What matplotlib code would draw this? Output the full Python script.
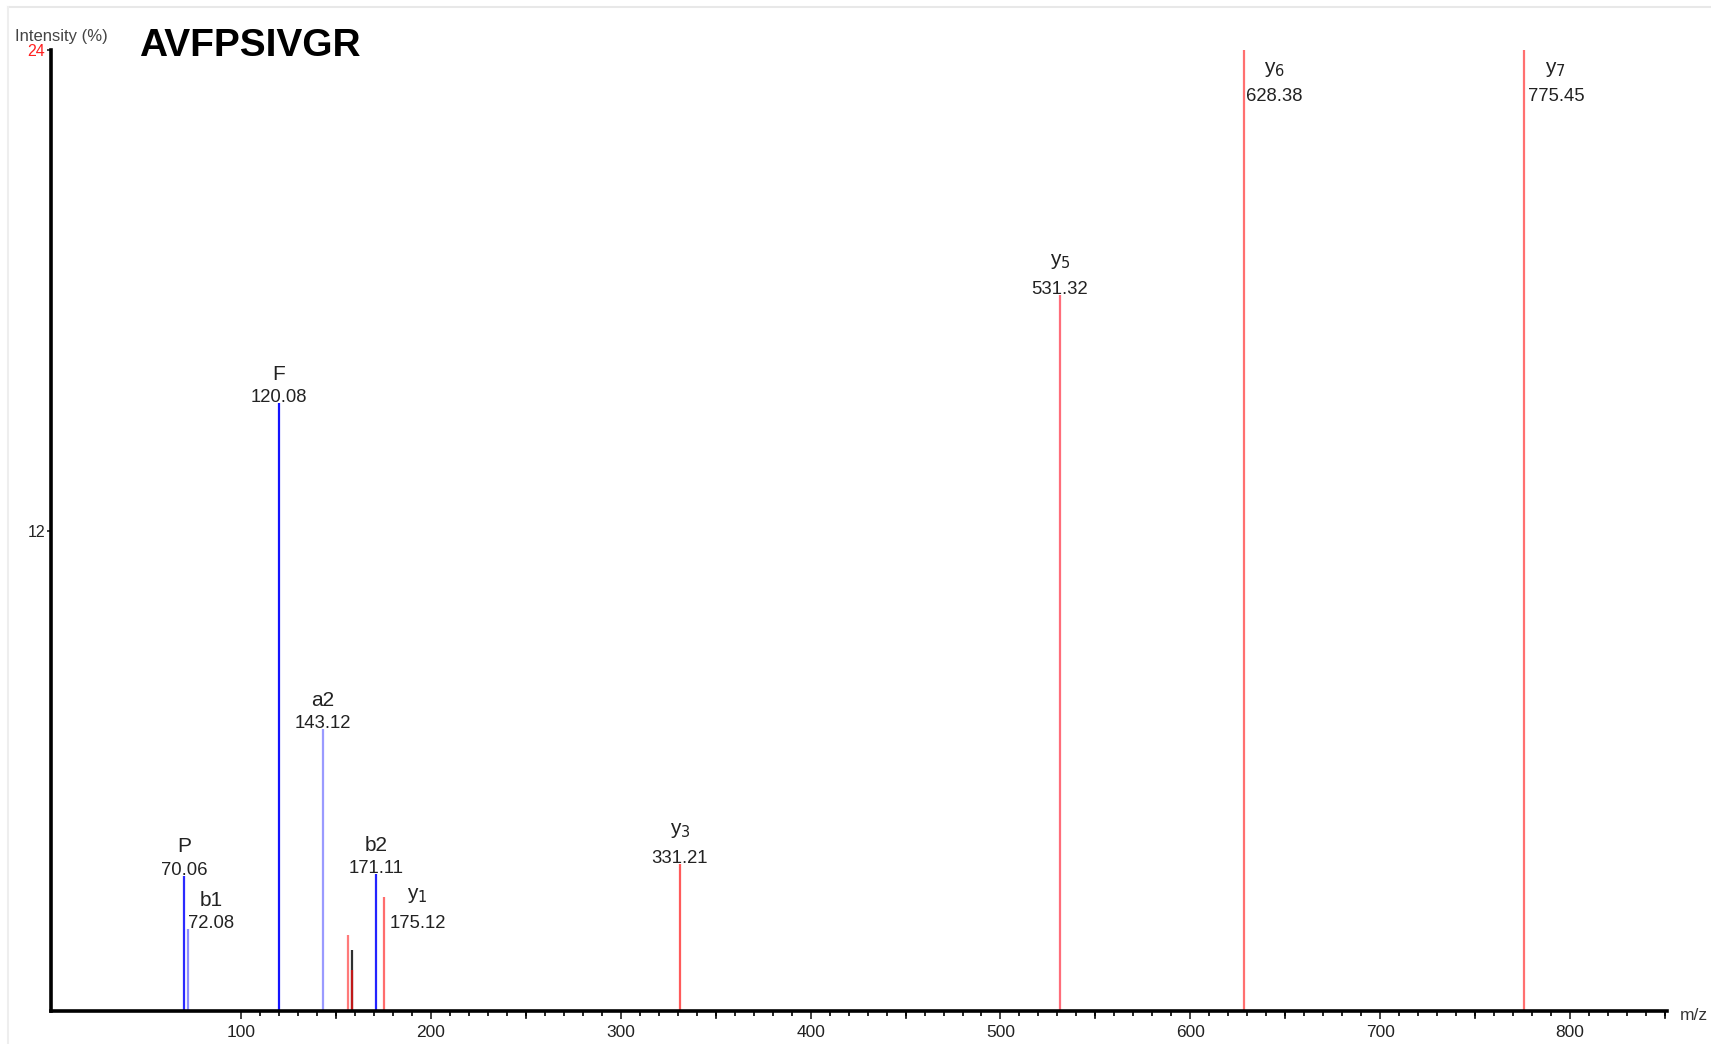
"""
AVFPSIVGR MS/MS 스펙트럼 재현 (stick plot + 이온 라벨).
"""
import numpy as np
import matplotlib
matplotlib.use("Agg")
import matplotlib.pyplot as plt
from matplotlib.lines import Line2D

plt.rcParams["font.family"] = ["Liberation Sans", "DejaVu Sans"]

PEPTIDE = "AVFPSIVGR"

# 피크: m/z, 강도(%), 색
mz = [70.06, 72.08, 120.08, 143.12, 156.3, 158.4, 158.3, 171.11, 175.12,
      331.21, 531.32, 628.38, 775.45]
intensity = [3.38, 2.05, 15.19, 7.04, 1.90, 1.52, 1.02, 3.42, 2.85,
             3.68, 17.89, 24.4, 24.4]
colors = ["#2b2bff", "#8c8cff", "#1414ff", "#9a9aff", "#ff7a7a", "#303030",
          "#c01818", "#2323ff", "#ff6d6d", "#ff5a5a", "#ff6d7a", "#ff7070",
          "#ff7070"]

# 라벨이 붙는 피크
ion_names = ["P", "b1", "F", "a2", "b2", "y$_1$", "y$_3$", "y$_5$", "y$_6$", "y$_7$"]
ion_mz = [70.06, 72.08, 120.08, 143.12, 171.11, 175.12, 331.21, 531.32, 628.38, 775.45]
ion_int = [3.38, 2.05, 15.19, 7.04, 3.42, 2.85, 3.68, 17.89, 24.0, 24.0]

# 라벨 위치: (m/z 오프셋, 고정 강도 위치 또는 None)
label_pos = {
    "P":      (0.0, None),
    "b1":     (12.4, None),
    "F":      (0.0, None),
    "a2":     (0.0, None),
    "b2":     (0.0, None),
    "y$_1$":  (18.0, 1.98),
    "y$_3$":  (0.0, None),
    "y$_5$":  (0.0, None),
    "y$_6$":  (16.0, 22.62),
    "y$_7$":  (17.0, 22.62),
}

fig = plt.figure(figsize=(17.11, 10.44), dpi=100)
ax = fig.add_axes([0.0298, 0.0316, 0.9445, 0.9205])

for x, h, c in zip(mz, intensity, colors):
    ax.vlines(x, 0, h, color=c, lw=1.6, zorder=2)

for name, x, h in zip(ion_names, ion_mz, ion_int):
    dx, ytxt = label_pos[name]
    if ytxt is None:
        ytxt = h - 0.08
    tx = x + dx
    ax.text(tx, ytxt, f"{x:.2f}", ha="center", va="bottom", fontsize=13.3,
            color="#222222", zorder=3)
    gap = 0.66 if name.startswith("y") else 0.56
    ax.text(tx, ytxt + gap, name, ha="center", va="bottom", fontsize=15,
            color="#222222", zorder=3)

ax.set_xlim(0, 851)
ax.set_ylim(0, 24)
ax.set_xticks(np.arange(100, 801, 100))
ax.set_xticks(np.arange(100, 851, 10), minor=True)
ax.set_yticks([12, 24])
ax.set_yticklabels(["12", "24"])
ax.tick_params(axis="x", which="major", length=6, width=1.2, labelsize=12.5,
               pad=4, colors="#222222")
ax.tick_params(axis="x", which="minor", length=3.5, width=1.2)
ax.tick_params(axis="y", length=3, width=1.2, labelsize=11.5, pad=1,
               colors="#222222")
ax.get_yticklabels()[1].set_color("#ff2020")

# 50 단위 중간 눈금
for v in np.arange(150, 851, 100):
    ax.plot([v, v], [0, -0.17], color="black", lw=1.2, clip_on=False, zorder=1)

for s in ["top", "right"]:
    ax.spines[s].set_visible(False)
ax.spines["left"].set_linewidth(2.6)
ax.spines["bottom"].set_linewidth(2.6)
ax.set_facecolor("white")

fig.text(0.0088, 0.9655, "Intensity (%)", fontsize=12, color="#444444",
         ha="left", va="center")
fig.text(0.9815, 0.0275, "m/z", fontsize=12.5, color="#333333", ha="left",
         va="center")
fig.text(0.0810, 0.9555, PEPTIDE, fontsize=28, fontweight="bold",
         ha="left", va="center")

# 바깥 테두리 (연회색)
fig.add_artist(Line2D([0.0047, 1.0], [0.9935, 0.9935], color="#e8e8e8",
                      lw=1.5, transform=fig.transFigure))
fig.add_artist(Line2D([0.0047, 0.0047], [0.0, 0.9935], color="#eeeeee",
                      lw=1.5, transform=fig.transFigure))

fig.savefig("out.png", dpi=100, facecolor="white")
